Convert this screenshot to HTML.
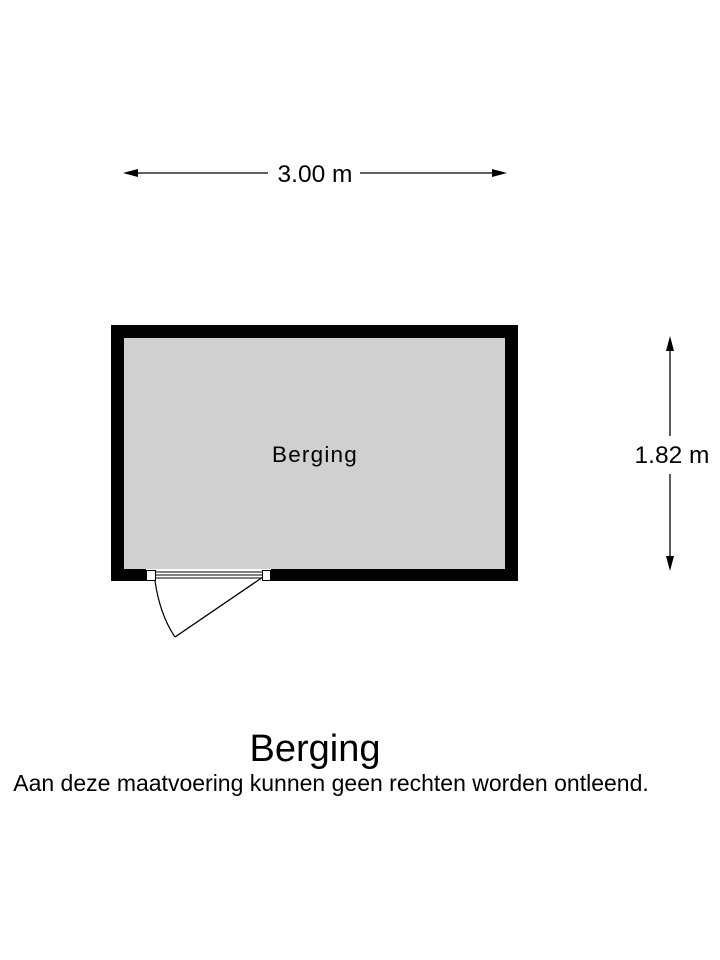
<!DOCTYPE html>
<html><head><style>
body{margin:0;background:#fff;}
svg{display:block;}
text{font-family:"Liberation Sans",sans-serif;fill:#000;}
</style></head><body>
<svg width="720" height="960" viewBox="0 0 720 960">
<!-- horizontal dimension -->
<line x1="134" y1="173" x2="268" y2="173" stroke="#000" stroke-width="1.3"/>
<line x1="360" y1="173" x2="496" y2="173" stroke="#000" stroke-width="1.3"/>
<polygon points="123,173 138,169 138,177" fill="#000"/>
<polygon points="507,173 492,169 492,177" fill="#000"/>
<text x="315" y="182" font-size="24.5" text-anchor="middle">3.00 m</text>
<!-- vertical dimension -->
<line x1="670" y1="348" x2="670" y2="436" stroke="#000" stroke-width="1.3"/>
<line x1="670" y1="474" x2="670" y2="560" stroke="#000" stroke-width="1.3"/>
<polygon points="670,336 666,351 674,351" fill="#000"/>
<polygon points="670,571 666,556 674,556" fill="#000"/>
<text x="672" y="463" font-size="24.5" text-anchor="middle">1.82 m</text>
<!-- room -->
<rect x="111" y="325" width="407" height="256" fill="#000"/>
<rect x="124" y="338" width="381" height="231" fill="#d0d0d0"/>
<!-- door opening -->
<rect x="146" y="569" width="125" height="13" fill="#fff"/>
<rect x="146.5" y="570.5" width="9" height="10" fill="#fff" stroke="#000" stroke-width="1"/>
<rect x="262.5" y="570.5" width="8" height="10" fill="#fff" stroke="#000" stroke-width="1"/>
<line x1="155" y1="572" x2="262" y2="572" stroke="#000" stroke-width="1"/>
<line x1="155" y1="575" x2="262" y2="575" stroke="#000" stroke-width="1"/>
<line x1="155" y1="578" x2="262" y2="578" stroke="#000" stroke-width="1"/>
<path d="M155,581 Q160,615 175,637" fill="none" stroke="#000" stroke-width="1.2"/>
<line x1="175" y1="637" x2="263" y2="577" stroke="#000" stroke-width="1.3"/>
<text x="315" y="462" font-size="22.5" text-anchor="middle" letter-spacing="1.2">Berging</text>
<!-- titles -->
<text x="315" y="761" font-size="38" text-anchor="middle">Berging</text>
<text x="331" y="791" font-size="23" text-anchor="middle">Aan deze maatvoering kunnen geen rechten worden ontleend.</text>
</svg>
</body></html>
